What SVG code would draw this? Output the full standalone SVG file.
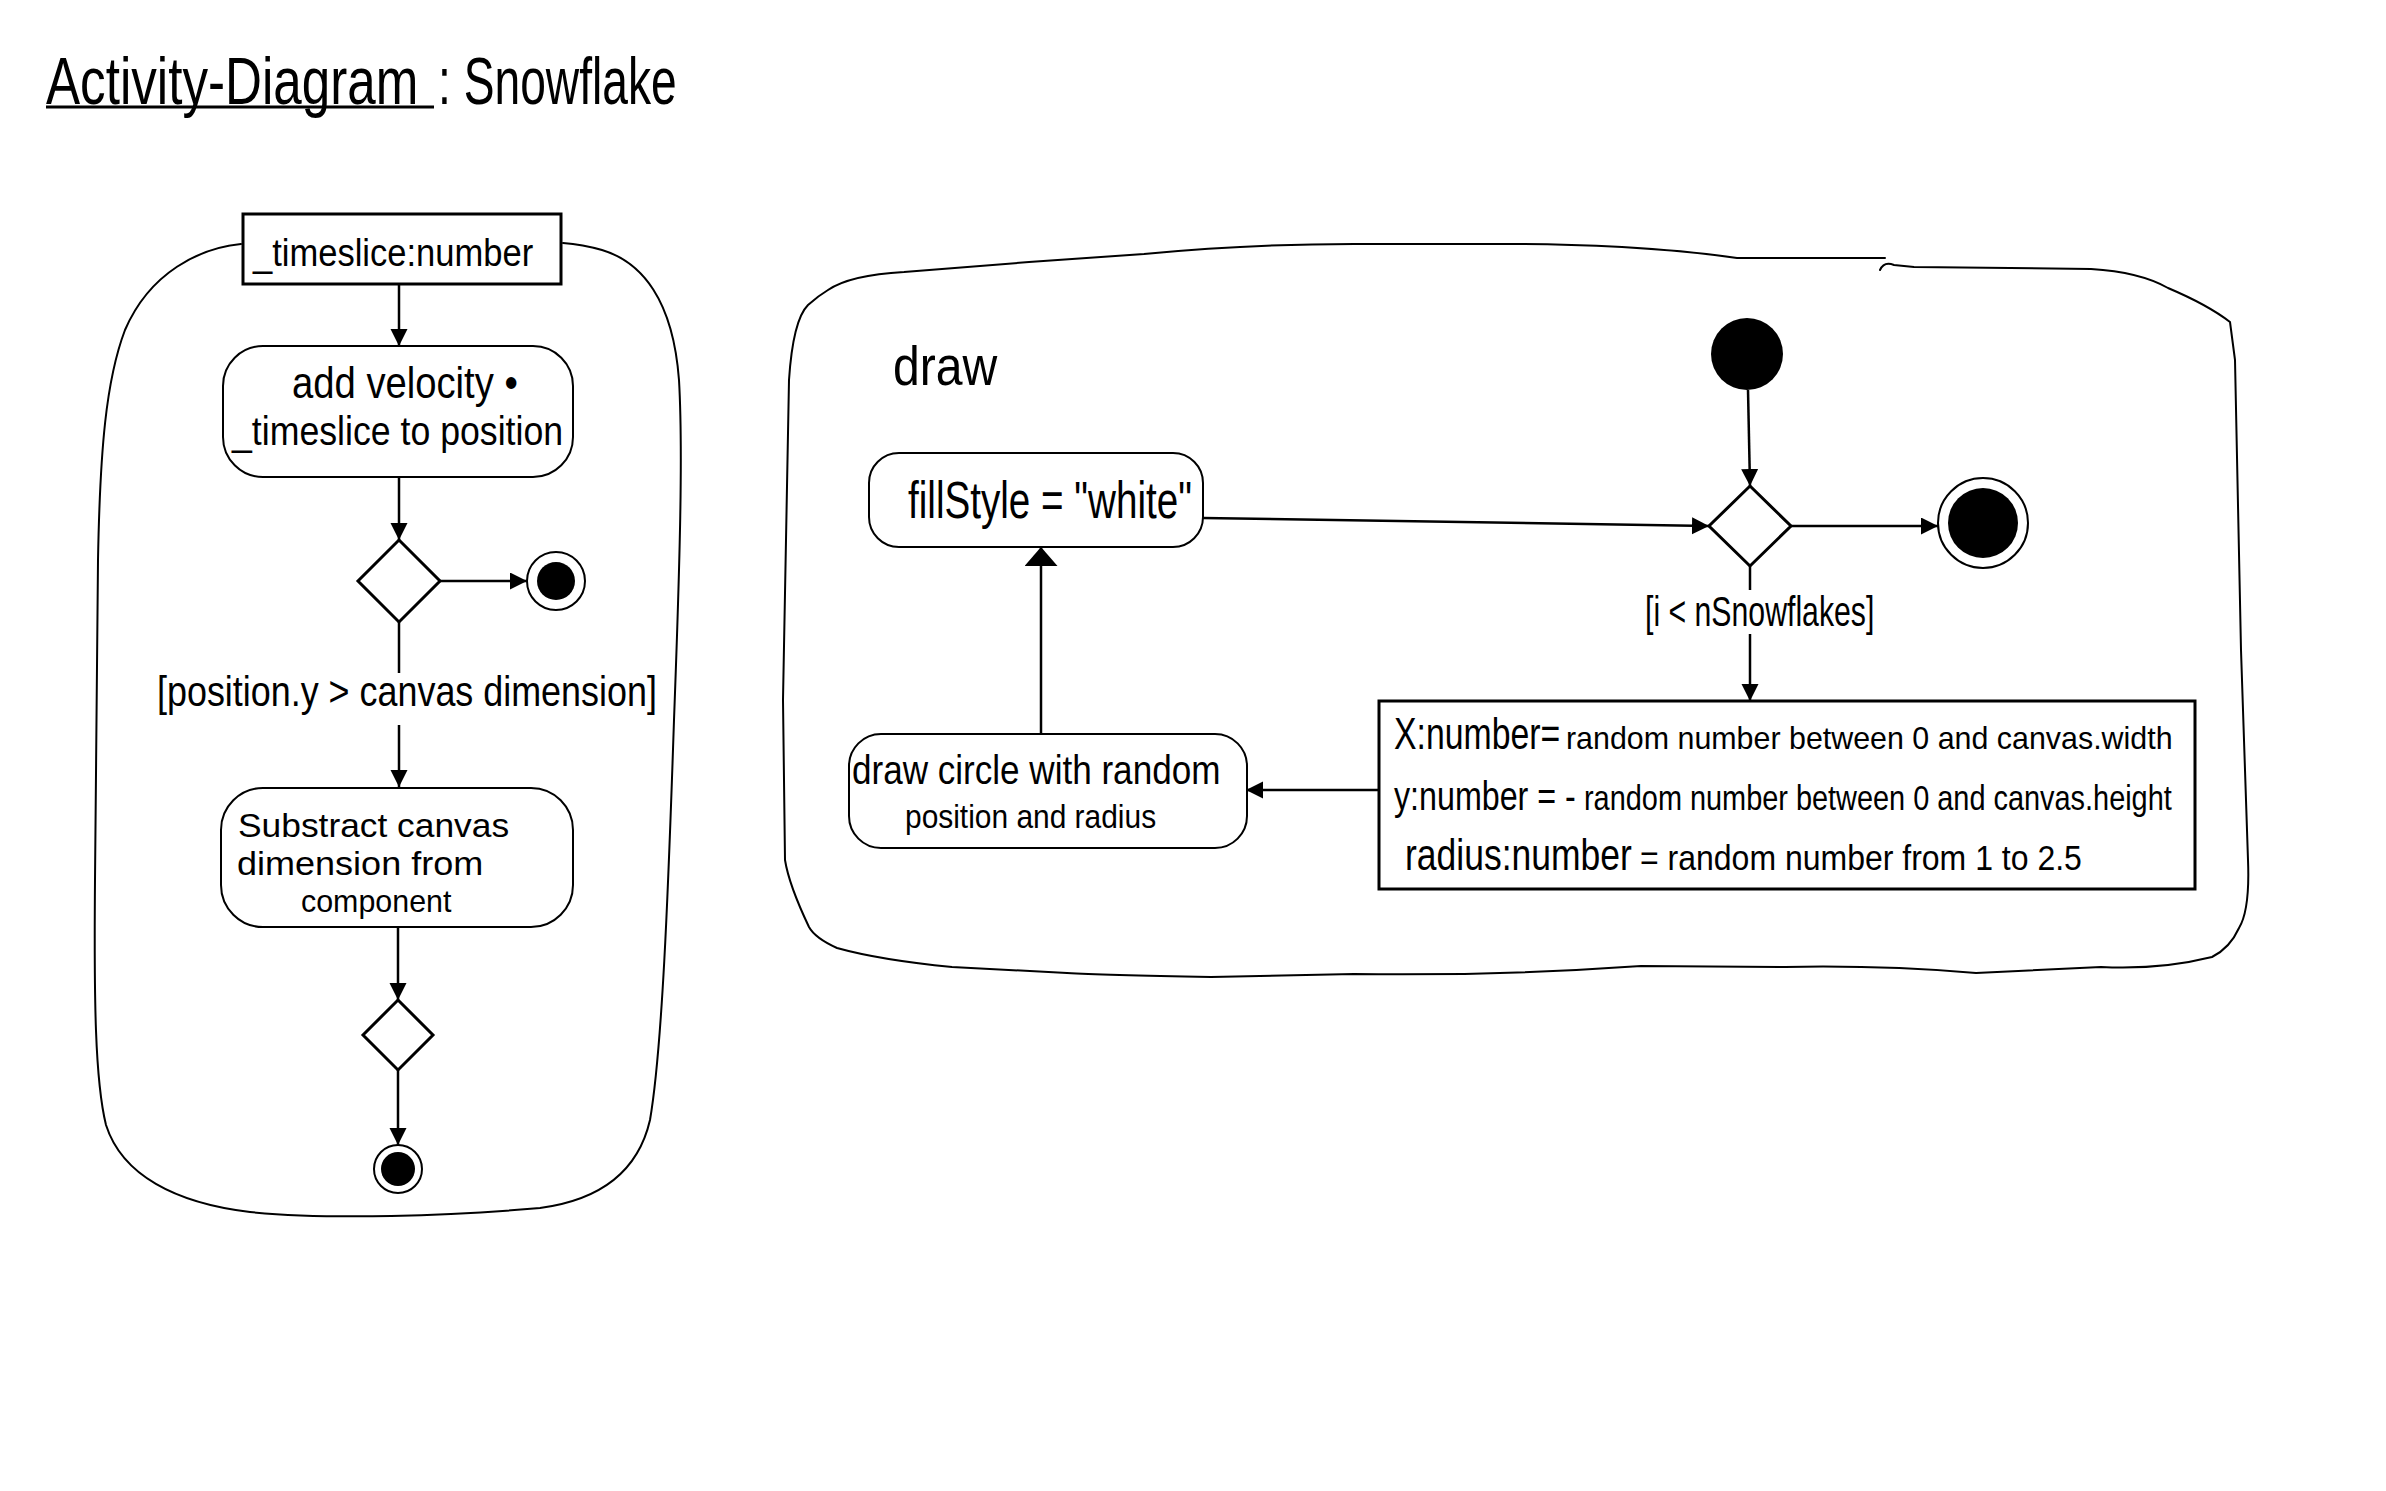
<svg xmlns="http://www.w3.org/2000/svg" width="2386" height="1491" viewBox="0 0 2386 1491">
<style>
.t{font-family:"Liberation Sans","DejaVu Sans",sans-serif;fill:#000;}
.frame{fill:none;stroke:#000;stroke-width:2;stroke-linejoin:round;stroke-linecap:round;}
.act{fill:#fff;stroke:#000;stroke-width:2;}
.box{fill:#fff;stroke:#000;stroke-width:3;}
.dia{fill:#fff;stroke:#000;stroke-width:3;}
.edge{fill:none;stroke:#000;stroke-width:2.5;}
.dot{fill:#000;}
.ring{fill:#fff;stroke:#000;stroke-width:2;}
</style>
<defs>
<marker id="ah" markerUnits="userSpaceOnUse" markerWidth="18" markerHeight="18" refX="17" refY="8.5" orient="auto">
<path d="M0,0 L17,8.5 L0,17 z" fill="#000"/>
</marker>
<marker id="ahb" markerUnits="userSpaceOnUse" markerWidth="22" markerHeight="34" refX="19" refY="16.5" orient="auto">
<path d="M0,0 L19,16.5 L0,33 z" fill="#000"/>
</marker>
</defs>
<rect width="2386" height="1491" fill="#fff"/>

<g id="title">
<text class="t" transform="translate(46,104) scale(0.775,1)" font-size="66">Activity-Diagram</text>
<line x1="46" y1="107" x2="434" y2="107" stroke="#000" stroke-width="3"/>
<text class="t" transform="translate(438,104) scale(0.70,1)" font-size="66">: Snowflake</text>
</g>

<g id="containers">
<path id="update-frame" class="frame" d="M241,244 C200,248 150,272 125,330 C106,380 100,450 98,560 L95,880 C94,1000 95,1080 106,1125 C122,1175 175,1203 250,1212 C330,1220 450,1216 540,1208 C600,1200 638,1172 650,1120 C662,1050 668,900 674,720 C680,560 683,450 679,380 C673,300 642,262 602,250 C588,246 576,244 563,243"/>
<path id="draw-frame" class="frame" d="M828,290 Q850,275 904,272 L1029,262 L1144,254 Q1250,244 1354,244 L1507,244 Q1560,244 1622,247 Q1690,251 1737,258 L1885,258 M1880,270 Q1884,261 1894,265 L1914,267 L2091,269 Q2140,272 2168,288 Q2208,305 2230,322 L2235,360 L2241,650 L2248,860 Q2250,910 2239,928 Q2230,948 2212,957 Q2160,970 2101,967 L1976,973 Q1880,965 1785,967 L1641,966 Q1500,976 1354,974 L1211,977 Q1100,975 1067,973 L952,967 Q880,960 837,948 Q815,938 809,927 Q789,885 785,860 L783,700 L789,380 Q793,320 808,305 Q818,296 828,290"/>
<text class="t" transform="translate(893,385) scale(0.86,1)" font-size="56">draw</text>
</g>

<g id="connectors">
<line class="edge" x1="399" y1="284" x2="399" y2="346" marker-end="url(#ah)"/>
<line class="edge" x1="399" y1="477" x2="399" y2="540" marker-end="url(#ah)"/>
<line class="edge" x1="440" y1="581" x2="527" y2="581" marker-end="url(#ah)"/>
<line class="edge" x1="399" y1="622" x2="399" y2="673"/>
<line class="edge" x1="399" y1="725" x2="399" y2="787" marker-end="url(#ah)"/>
<line class="edge" x1="398" y1="927" x2="398" y2="1000" marker-end="url(#ah)"/>
<line class="edge" x1="398" y1="1070" x2="398" y2="1145" marker-end="url(#ah)"/>
<line class="edge" x1="1748" y1="390" x2="1750" y2="486" marker-end="url(#ah)"/>
<line class="edge" x1="1203" y1="518" x2="1709" y2="526" marker-end="url(#ah)"/>
<line class="edge" x1="1791" y1="526" x2="1938" y2="526" marker-end="url(#ah)"/>
<line class="edge" x1="1750" y1="566" x2="1750" y2="590"/>
<line class="edge" x1="1750" y1="634" x2="1750" y2="701" marker-end="url(#ah)"/>
<line class="edge" x1="1379" y1="790" x2="1246" y2="790" marker-end="url(#ah)"/>
<line class="edge" x1="1041" y1="736" x2="1041" y2="547" marker-end="url(#ahb)"/>
<text class="t" transform="translate(157,706) scale(0.855,1)" font-size="42">[position.y &gt; canvas dimension]</text>
<text class="t" transform="translate(1645,626) scale(0.72,1)" font-size="42">[i &lt; nSnowflakes]</text>
</g>

<g id="timeslice-param">
<rect class="box" x="243" y="214" width="318" height="70"/>
<text class="t" transform="translate(253,266) scale(0.909,1)" font-size="38">_timeslice:number</text>
</g>

<g id="add-velocity">
<rect class="act" x="223" y="346" width="350" height="131" rx="40"/>
<text class="t" transform="translate(292,398) scale(0.869,1)" font-size="44">add velocity •</text>
<text class="t" transform="translate(232,445) scale(0.892,1)" font-size="40">_timeslice to position</text>
</g>

<g id="decision-1">
<polygon class="dia" points="399,540 440,581 399,622 358,581"/>
</g>

<g id="final-1">
<circle class="ring" cx="556" cy="581" r="29"/>
<circle class="dot" cx="556" cy="581" r="19"/>
</g>

<g id="substract">
<rect class="act" x="221" y="788" width="352" height="139" rx="42"/>
<text class="t" transform="translate(238,837) scale(1.04,1)" font-size="34">Substract canvas</text>
<text class="t" transform="translate(237,875) scale(1.06,1)" font-size="34">dimension  from</text>
<text class="t" transform="translate(301,912) scale(0.95,1)" font-size="32">component</text>
</g>

<g id="merge-1">
<polygon class="dia" points="398,1000 433,1035 398,1070 363,1035"/>
</g>

<g id="final-2">
<circle class="ring" cx="398" cy="1169" r="24"/>
<circle class="dot" cx="398" cy="1169" r="17"/>
</g>

<g id="initial-draw">
<circle class="dot" cx="1747" cy="354" r="36"/>
</g>

<g id="fillstyle">
<rect class="act" x="869" y="453" width="334" height="94" rx="30"/>
<text class="t" transform="translate(908,518) scale(0.743,1)" font-size="52">fillStyle = "white"</text>
</g>

<g id="decision-draw">
<polygon class="dia" points="1750,486 1791,526 1750,566 1709,526"/>
</g>

<g id="final-draw">
<circle class="ring" cx="1983" cy="523" r="45"/>
<circle class="dot" cx="1983" cy="523" r="35"/>
</g>

<g id="random-values">
<rect class="box" x="1379" y="701" width="816" height="188"/>
<text class="t" transform="translate(1394,749) scale(0.768,1)" font-size="44">X:number=</text>
<text class="t" transform="translate(1566,749) scale(0.95,1)" font-size="32">random  number  between 0 and  canvas.width</text>
<text class="t" transform="translate(1394,810) scale(0.806,1)" font-size="40">y:number = -</text>
<text class="t" transform="translate(1584,810) scale(0.803,1)" font-size="36">random number  between 0 and  canvas.height</text>
<text class="t" transform="translate(1405,870) scale(0.807,1)" font-size="44">radius:number</text>
<text class="t" transform="translate(1640,870) scale(0.889,1)" font-size="36">= random number  from  1 to 2.5</text>
</g>

<g id="draw-circle">
<rect class="act" x="849" y="734" width="398" height="114" rx="32"/>
<text class="t" transform="translate(852,784) scale(0.877,1)" font-size="40">draw  circle with random</text>
<text class="t" transform="translate(905,828) scale(0.88,1)" font-size="34">position and radius</text>
</g>
</svg>
